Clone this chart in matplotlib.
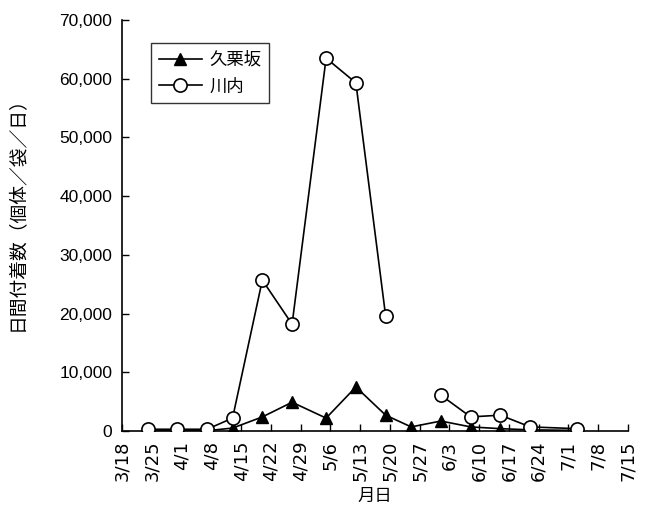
import matplotlib
matplotlib.use("Agg")
import matplotlib.pyplot as plt
import matplotlib.dates as mdates
import numpy as np
import pandas as pd

plt.rcParams['font.family'] = ['Noto Sans CJK JP', 'DejaVu Sans']

# survey dates (month/day) and daily counts per bag
sample_dates = ["3/24", "3/31", "4/7", "4/13", "4/20", "4/27", "5/5", "5/12",
                "5/19", "5/25", "6/1", "6/8", "6/15", "6/22", "7/3"]
kuribayashi = [50, 50, 50, 500, 2400, 4900, 2200, 7500,
               2700, 700, 1700, 700, 400, 200, 100]
kawauchi = [300, 300, 300, 2200, 25700, 18200, 63500, 59300,
            19600, np.nan, 6100, 2400, 2700, 700, 400]

tick_start = "3/18"
tick_end = "7/15"

YEAR = "2004/"
x = pd.to_datetime([YEAR + d for d in sample_dates])
ticks = pd.date_range(YEAR + tick_start, YEAR + tick_end, freq="7D")

fig = plt.figure(figsize=(6.47, 5.05), dpi=100)
ax = fig.add_axes([0.1886, 0.1465, 0.782, 0.8139])

ax.plot(x, kuribayashi, "-^", color="black", lw=1.2, ms=9,
        mfc="black", mec="black", label="久栗坂", zorder=3)
ax.plot(x, kawauchi, "-o", color="black", lw=1.2, ms=9.5,
        mfc="white", mec="black", mew=1.2, label="川内", zorder=4)

ax.set_xlim(ticks[0], ticks[-1])
ax.set_xticks(ticks)
ax.xaxis.set_major_formatter(
    plt.FuncFormatter(lambda v, p: f"{mdates.num2date(v).month}/{mdates.num2date(v).day}"))
plt.setp(ax.get_xticklabels(), rotation=90, fontsize=13, family="DejaVu Sans")

ax.set_ylim(0, 70000)
ax.set_yticks(np.arange(0, 70001, 10000))
ax.yaxis.set_major_formatter(plt.FuncFormatter(lambda v, p: f"{int(v):,}"))
plt.setp(ax.get_yticklabels(), fontsize=12.5, family="Liberation Sans")

ax.tick_params(direction="in", length=5, width=1, color="black")
ax.tick_params(axis="x", pad=7)
ax.tick_params(axis="y", pad=7)
ax.spines["top"].set_visible(False)
ax.spines["right"].set_visible(False)
for s in ("left", "bottom"):
    ax.spines[s].set_linewidth(1.2)

ax.set_xlabel("月日", fontsize=12.5)
ax.xaxis.set_label_coords(0.5, -0.137)
ax.set_ylabel("日間付着数（個体／袋／日）", fontsize=13.5)
ax.yaxis.set_label_coords(-0.188, 0.54)

leg = ax.legend(loc="upper left", bbox_to_anchor=(0.04, 0.965), fontsize=12.5,
                frameon=True, fancybox=False, edgecolor="black",
                handlelength=2.5, handletextpad=0.4, borderpad=0.45,
                labelspacing=0.5)
leg.get_frame().set_linewidth(1.0)

fig.savefig("out.png", dpi=100)
